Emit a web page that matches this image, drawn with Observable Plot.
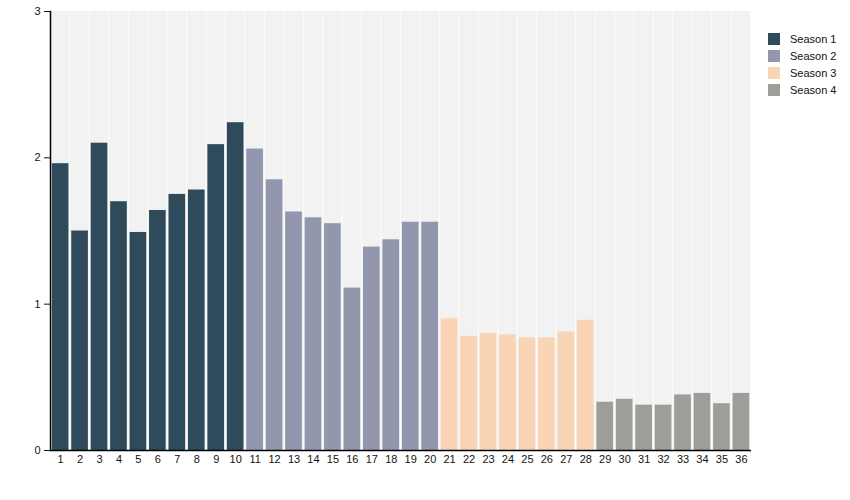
<!DOCTYPE html>
<html>
<head>
<meta charset="utf-8">
<script src="https://cdn.jsdelivr.net/npm/d3@7"></script>
<script src="https://cdn.jsdelivr.net/npm/@observablehq/plot@0.6"></script>
<style>
  html, body { margin: 0; background: #fff; font-family: "Liberation Sans", Arial, sans-serif; overflow: hidden; }
  #wrap { position: relative; width: 850px; height: 500px; }
  #wrap svg { display: block; }
  #legend { position: absolute; left: 768px; top: 30px; font-size: 11px; color: #111; }
  .item { display: flex; align-items: center; height: 17px; }
  .sw { width: 12px; height: 12px; margin-right: 10px; }
</style>
</head>
<body>
<div id="wrap"><div id="legend"></div></div>
<script>
const episodes = d3.range(1, 37);
const seasons = ["Season 1", "Season 2", "Season 3", "Season 4"];
const seasonOf = [1,1,1,1,1,1,1,1,1,1, 2,2,2,2,2,2,2,2,2,2, 3,3,3,3,3,3,3,3, 4,4,4,4,4,4,4,4];
const values = [1.96, 1.50, 2.10, 1.70, 1.49, 1.64, 1.75, 1.78, 2.09, 2.24,
                2.06, 1.85, 1.63, 1.59, 1.55, 1.11, 1.39, 1.44, 1.56, 1.56,
                0.90, 0.78, 0.80, 0.79, 0.77, 0.77, 0.81, 0.89,
                0.33, 0.35, 0.31, 0.31, 0.38, 0.39, 0.32, 0.39];
const colors = ["#2f4a5a", "#9297ad", "#f9d5b5", "#9e9e99"];
const yMax = 3;

const data = episodes.map((e, i) => ({episode: e, value: values[i], season: seasons[seasonOf[i] - 1]}));

const chart = Plot.plot({
  width: 850,
  height: 500,
  marginTop: 11,
  marginBottom: 50,
  marginLeft: 50,
  marginRight: 99,
  style: {fontFamily: "'Liberation Sans', Arial, sans-serif", fontSize: "11px", color: "#111"},
  x: {domain: episodes, padding: 0.04, round: false, label: null, tickSize: 0, tickPadding: 5},
  y: {domain: [0, yMax], ticks: [0, 1, 2, 3], tickFormat: "d", label: null, tickSize: 6, tickPadding: 4},
  color: {domain: seasons, range: colors},
  marks: [
    Plot.barY(episodes, {x: d => d, y: () => yMax, fill: "#f2f2f2"}),
    Plot.barY(data, {x: "episode", y: "value", fill: "season", insetLeft: 1, insetRight: 1}),
    Plot.ruleY([0], {stroke: "#000", strokeWidth: 1.5}),
    Plot.frame({anchor: "left", stroke: "#000", strokeWidth: 1.5})
  ]
});
document.getElementById("wrap").prepend(chart);

const legend = document.getElementById("legend");
seasons.forEach((s, i) => {
  const it = document.createElement("div");
  it.className = "item";
  it.innerHTML = `<div class="sw" style="background:${colors[i]}"></div><span>${s}</span>`;
  legend.appendChild(it);
});
</script>
</body>
</html>
